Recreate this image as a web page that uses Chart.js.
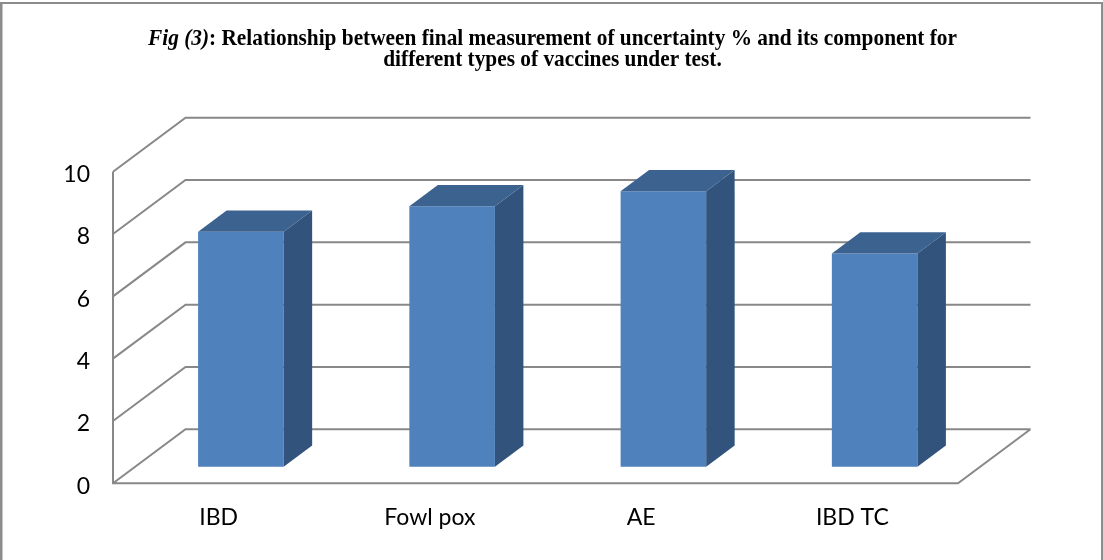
<!DOCTYPE html>
<html>
<head>
<meta charset="utf-8">
<script src="https://cdn.jsdelivr.net/npm/chart.js@4/dist/chart.umd.min.js"></script>
<style>
  html, body { margin: 0; padding: 0; background: #fff; }
  canvas { display: block; }
</style>
</head>
<body>
<canvas id="chart" width="1103" height="560"></canvas>
<script>
// Vaccine types and their final measurement uncertainty (%)
const categories = ['IBD', 'Fowl pox', 'AE', 'IBD TC'];
const uncertainty = [7.54, 8.36, 8.84, 6.84];

// Value axis range
const yMin = 0;
const yMax = 10;
const yStep = 2;

// Caption
const captionLead = 'Fig (3)';
const captionLine1 = ': Relationship between final measurement of uncertainty % and its component for';
const captionLine2 = 'different types of vaccines under test.';

// 3-D look: depth of the floor/side wall and position of the bars inside it
const WALL_DX = 72.5;
const WALL_DY = -54;
const BAR_FRONT = 0.307;   // fraction of depth where the bar front face sits
const BAR_BACK = 0.70;     // fraction of depth where the bar back face sits

const GRID_COLOR = '#888888';
const FACE_COLOR = '#4f81bd';
const TOP_COLOR = '#3c6290';
const SIDE_COLOR = '#32537c';

const TEXT_FONT = 'Lato, "Open Sans", sans-serif';

const frame3d = {
  id: 'frame3d',
  beforeDraw(chart) {
    const ctx = chart.ctx;
    const W = chart.width, H = chart.height;
    ctx.save();
    ctx.fillStyle = '#ffffff';
    ctx.fillRect(0, 0, W, H);
    // outer frame (left, top, right)
    ctx.fillStyle = '#8c8c8c';
    ctx.fillRect(0, 2, 2.5, H - 2);
    ctx.fillRect(0, 2, W, 2);
    ctx.fillRect(W - 2, 2, 2, H - 2);

    // caption: italic lead followed by bold text, condensed to the frame width
    const size = 22.5;
    const fontIt = 'italic bold ' + size + 'px "Liberation Serif", "Times New Roman", serif';
    const fontB = 'bold ' + size + 'px "Liberation Serif", "Times New Roman", serif';
    ctx.fillStyle = '#000';
    ctx.textBaseline = 'alphabetic';
    ctx.textAlign = 'left';
    ctx.font = fontIt;
    const wLead = ctx.measureText(captionLead).width;
    ctx.font = fontB;
    const w1 = ctx.measureText(captionLine1).width;
    const w2 = ctx.measureText(captionLine2).width;
    const target = 809;
    const sx = target / (wLead + w1);
    const cx = 552.5;

    ctx.save();
    ctx.translate(cx - target / 2, 45);
    ctx.scale(sx, 1);
    ctx.font = fontIt;
    ctx.fillText(captionLead, 0, 0);
    ctx.font = fontB;
    ctx.fillText(captionLine1, wLead, 0);
    ctx.restore();

    ctx.save();
    ctx.translate(cx - (w2 * sx) / 2, 66);
    ctx.scale(sx, 1);
    ctx.font = fontB;
    ctx.fillText(captionLine2, 0, 0);
    ctx.restore();
    ctx.restore();
  },
  beforeDatasetsDraw(chart) {
    const ctx = chart.ctx;
    const ys = chart.scales.y;
    const left = chart.chartArea.left, right = chart.chartArea.right;
    const bottom = ys.getPixelForValue(yMin);
    const top = ys.getPixelForValue(yMax);
    ctx.save();
    ctx.strokeStyle = GRID_COLOR;
    ctx.lineWidth = 2;
    ctx.lineCap = 'butt';
    ctx.beginPath();
    ys.ticks.forEach(t => {
      const py = ys.getPixelForValue(t.value);
      // side wall diagonal and back wall line
      ctx.moveTo(left, py);
      ctx.lineTo(left + WALL_DX, py + WALL_DY);
      ctx.lineTo(right + WALL_DX, py + WALL_DY);
    });
    // front value axis
    ctx.moveTo(left, top);
    ctx.lineTo(left, bottom);
    // floor front edge and right edge
    ctx.lineTo(right, bottom);
    ctx.lineTo(right + WALL_DX, bottom + WALL_DY);
    ctx.stroke();
    ctx.restore();

    // bars are placed inside the depth of the floor
    ctx.save();
    ctx.translate(WALL_DX * BAR_FRONT, WALL_DY * BAR_FRONT);
  },
  afterDatasetsDraw(chart) {
    const ctx = chart.ctx;
    ctx.restore();
    const tx = WALL_DX * BAR_FRONT, ty = WALL_DY * BAR_FRONT;
    const dx = WALL_DX * (BAR_BACK - BAR_FRONT), dy = WALL_DY * (BAR_BACK - BAR_FRONT);
    const meta = chart.getDatasetMeta(0);
    ctx.save();
    meta.data.forEach(bar => {
      const p = bar.getProps(['x', 'y', 'base', 'width'], true);
      const l = p.x - p.width / 2 + tx;
      const r = p.x + p.width / 2 + tx;
      const t = p.y + ty;
      const b = p.base + ty;
      // side face
      ctx.fillStyle = SIDE_COLOR;
      ctx.beginPath();
      ctx.moveTo(r, t);
      ctx.lineTo(r + dx, t + dy);
      ctx.lineTo(r + dx, b + dy);
      ctx.lineTo(r, b);
      ctx.closePath();
      ctx.fill();
      // top face
      ctx.fillStyle = TOP_COLOR;
      ctx.beginPath();
      ctx.moveTo(l, t);
      ctx.lineTo(r, t);
      ctx.lineTo(r + dx, t + dy);
      ctx.lineTo(l + dx, t + dy);
      ctx.closePath();
      ctx.fill();
    });
    ctx.restore();
  }
};

new Chart(document.getElementById('chart'), {
  type: 'bar',
  data: {
    labels: categories,
    datasets: [{
      data: uncertainty,
      backgroundColor: FACE_COLOR,
      borderWidth: 0,
      barPercentage: 0.405,
      categoryPercentage: 1.0,
      clip: false
    }]
  },
  options: {
    responsive: false,
    animation: false,
    devicePixelRatio: 1,
    layout: { padding: { left: 0, right: 145, top: 171.7, bottom: 0 } },
    plugins: {
      legend: { display: false },
      title: { display: false },
      tooltip: { enabled: false }
    },
    scales: {
      x: {
        offset: true,
        grid: { display: false, drawTicks: false },
        border: { display: false },
        ticks: {
          color: '#000',
          font: { family: TEXT_FONT, size: 23 },
          padding: 20,
          maxRotation: 0,
          autoSkip: false
        },
        afterFit(scale) { scale.height = 76.7; }
      },
      y: {
        min: yMin,
        max: yMax,
        grid: { display: false, drawTicks: false },
        border: { display: false },
        ticks: {
          stepSize: yStep,
          color: '#000',
          font: { family: TEXT_FONT, size: 23 },
          padding: 23,
          labelOffset: 3
        },
        afterFit(scale) { scale.width = 113; }
      }
    }
  },
  plugins: [frame3d]
});
</script>
</body>
</html>
